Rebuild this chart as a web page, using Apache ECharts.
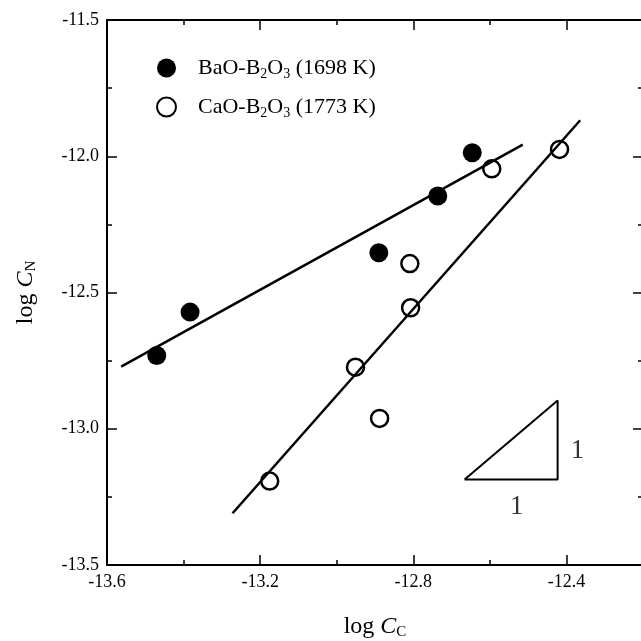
<!DOCTYPE html>
<html>
<head>
<meta charset="utf-8">
<script src="https://cdn.jsdelivr.net/npm/echarts@6/dist/echarts.min.js"></script>
<style>
  html, body { margin: 0; padding: 0; background: #fff; }
  #chart { width: 641px; height: 641px; }
</style>
</head>
<body>
<div id="chart"></div>
<script>
// measured data
const baoX = [-13.470, -13.383, -12.890, -12.736, -12.646];
const baoY = [-12.731, -12.572, -12.354, -12.146, -11.987];
const caoX = [-13.175, -12.951, -12.888, -12.809, -12.807, -12.595, -12.418];
const caoY = [-13.192, -12.774, -12.962, -12.394, -12.556, -12.046, -11.975];

// fitted lines (end points)
const baoFitX = [-13.563, -12.514];
const baoFitY = [-12.772, -11.957];
const caoFitX = [-13.272, -12.364];
const caoFitY = [-13.310, -11.868];

// slope triangle + its "1" labels
const triX = [-12.666, -12.423, -12.423, -12.666];
const triY = [-13.186, -13.186, -12.896, -13.186];
const oneX = [-12.371, -12.530];
const oneY = [-13.083, -13.285];

const xTicks = [-13.6, -13.2, -12.8, -12.4];
const xMinor = [-13.4, -13.0, -12.6];
const yTicks = [-13.5, -13.0, -12.5, -12.0, -11.5];

const serif = "Liberation Serif";
const zip = (a, b) => a.map((v, i) => [v, b[i]]);

const chart = echarts.init(document.getElementById("chart"));

const xBase = { type: "value", min: -13.6, max: -12.2, splitLine: { show: false } };
const tickStyle = { color: "#000", width: 1.5 };
const nameStyle = {
  fontFamily: serif, fontSize: 24, color: "#000",
  rich: {
    i: { fontFamily: serif, fontSize: 24, fontStyle: "italic" },
    s: { fontFamily: serif, fontSize: 15, padding: [11, 0, 0, 0] },
  },
};

chart.setOption({
  animation: false,
  grid: { left: 107, top: 20, width: 536, height: 545, outerBoundsMode: "none" },
  legend: {
    orient: "vertical",
    left: 151,
    top: 52,
    itemWidth: 19,
    itemHeight: 19,
    itemGap: 15,
    icon: "circle",
    data: ["BaO", "CaO"],
    formatter: (n) =>
      n === "BaO" ? "BaO-B{s|2}O{s|3} (1698 K)" : "CaO-B{s|2}O{s|3} (1773 K)",
    textStyle: {
      fontFamily: serif, fontSize: 22, color: "#000", padding: [0, 0, 0, 17],
      rich: { s: { fontFamily: serif, fontSize: 14, padding: [12, 0, 0, 0] } },
    },
  },
  xAxis: [
    {
      ...xBase, position: "bottom",
      name: "log {i|C}{s|C}", nameLocation: "middle", nameGap: 49,
      nameTextStyle: nameStyle,
      axisLine: { lineStyle: { color: "#000", width: 2 } },
      axisTick: { inside: true, length: 10, customValues: xTicks, lineStyle: tickStyle },
      axisLabel: {
        customValues: xTicks, formatter: (v) => v.toFixed(1),
        fontFamily: serif, fontSize: 18, color: "#000", margin: 8,
      },
    },
    {
      ...xBase, position: "bottom",
      axisLine: { show: false },
      axisTick: { inside: true, length: 5, customValues: xMinor, lineStyle: tickStyle },
      axisLabel: { show: false },
    },
    {
      ...xBase, position: "top",
      axisLine: { lineStyle: { color: "#000", width: 2 } },
      axisTick: { inside: true, length: 10, customValues: xTicks, lineStyle: tickStyle },
      axisLabel: { show: false },
    },
    {
      ...xBase, position: "top",
      axisLine: { show: false },
      axisTick: { inside: true, length: 5, customValues: xMinor, lineStyle: tickStyle },
      axisLabel: { show: false },
    },
  ],
  yAxis: [
    {
      type: "value", min: -13.5, max: -11.5, interval: 0.5, position: "left",
      name: "log {i|C}{s|N}", nameLocation: "middle", nameGap: 68, nameRotate: 90,
      nameTextStyle: nameStyle,
      splitLine: { show: false },
      axisLine: { lineStyle: { color: "#000", width: 2 } },
      axisTick: { inside: true, length: 10, lineStyle: tickStyle },
      minorTick: { show: true, splitNumber: 2, length: 5, lineStyle: tickStyle },
      axisLabel: {
        formatter: (v) => v.toFixed(1),
        fontFamily: serif, fontSize: 18, color: "#000", margin: 8,
      },
    },
    {
      type: "value", min: -13.5, max: -11.5, interval: 0.5, position: "right",
      splitLine: { show: false },
      axisLine: { lineStyle: { color: "#000", width: 2 } },
      axisTick: { inside: true, length: 10, lineStyle: tickStyle },
      minorTick: { show: true, splitNumber: 2, length: 5, lineStyle: tickStyle },
      axisLabel: { show: false },
    },
  ],
  series: [
    {
      name: "BaO fit", type: "line", data: zip(baoFitX, baoFitY), symbol: "none",
      lineStyle: { color: "#000", width: 2.5 }, z: 3,
    },
    {
      name: "CaO fit", type: "line", data: zip(caoFitX, caoFitY), symbol: "none",
      lineStyle: { color: "#000", width: 2.5 }, z: 3,
    },
    {
      name: "triangle", type: "line", data: zip(triX, triY), symbol: "none",
      lineStyle: { color: "#000", width: 2 },
    },
    {
      name: "ones", type: "scatter", data: zip(oneX, oneY), symbolSize: 0,
      label: {
        show: true, position: "inside", formatter: "1",
        fontFamily: serif, fontSize: 27, color: "#000",
      },
    },
    {
      name: "BaO", type: "scatter", data: zip(baoX, baoY), symbol: "circle", symbolSize: 19,
      itemStyle: { color: "#000", opacity: 1 }, z: 4,
    },
    {
      name: "CaO", type: "scatter", data: zip(caoX, caoY), symbol: "circle", symbolSize: 17,
      itemStyle: { color: "rgba(255,255,255,0)", borderColor: "#000", borderWidth: 2.5, opacity: 1 }, z: 4,
    },
  ],
});
</script>
</body>
</html>
